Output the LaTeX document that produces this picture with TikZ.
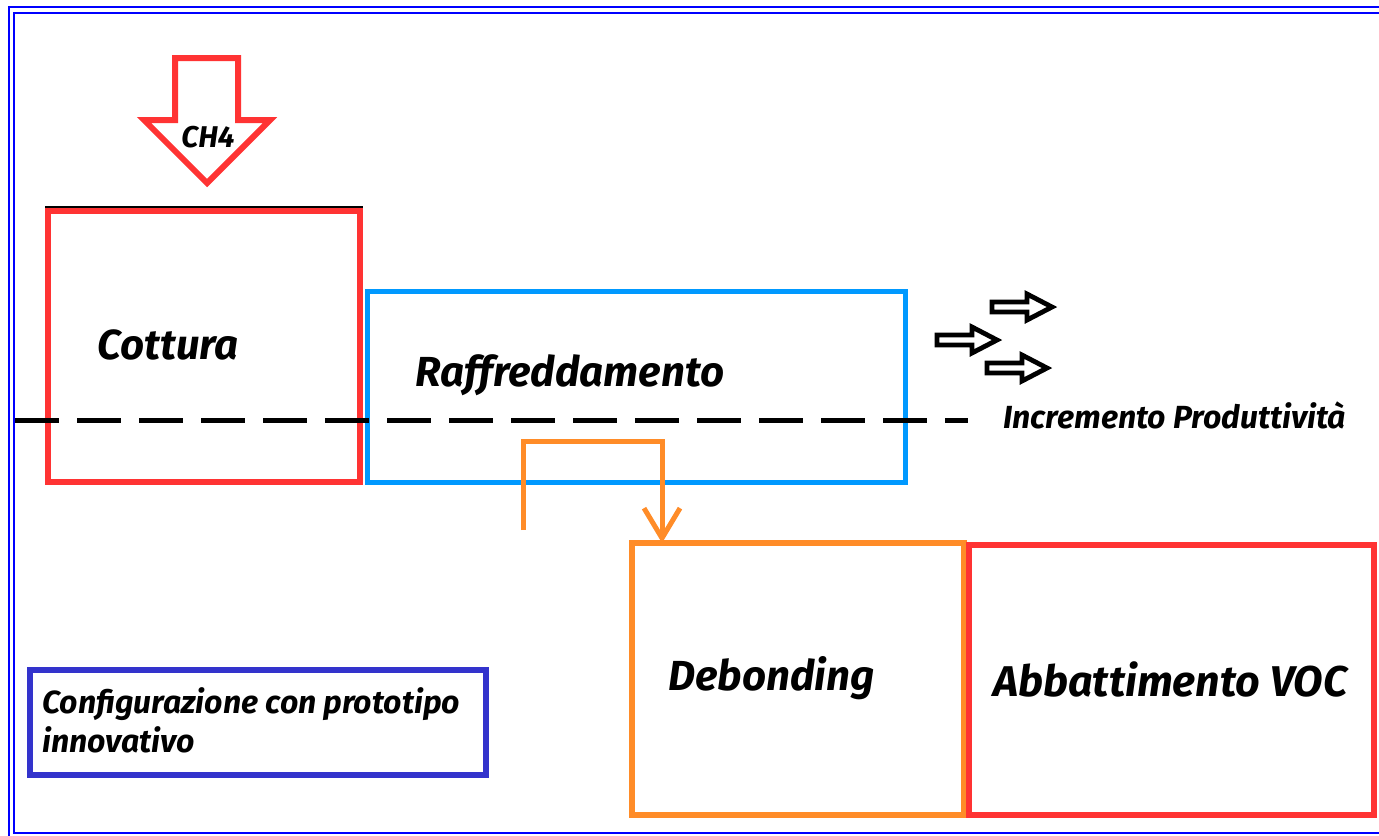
\documentclass[tikz,border=0pt]{standalone}
\usepackage{fontspec}
\setmainfont{Fira Sans}
\usetikzlibrary{arrows.meta}
\definecolor{boxred}{RGB}{255,51,51}
\definecolor{boxblue}{RGB}{0,153,255}
\definecolor{boxorange}{RGB}{255,140,40}
\definecolor{frameblue}{RGB}{0,0,255}
\definecolor{legblue}{RGB}{51,51,204}
\tikzset{
  box/.style={draw, line width=3pt, inner sep=0pt, outer sep=0pt},
  biglabel/.style={font=\fontsize{21}{25}\selectfont\bfseries\itshape, inner sep=0pt, anchor=base west},
  smalllabel/.style={font=\fontsize{16}{19.5}\selectfont\bfseries\itshape, inner sep=0pt, anchor=base west},
  blockarrow/.style={line width=2.4pt, line join=miter},
}
\begin{document}
\begin{tikzpicture}[x=0.5pt, y=-0.5pt, >=latex]
        \useasboundingbox (0,0) rectangle (1379,835);
        \clip (0,0) rectangle (1379,835);
        \draw [frameblue, line width=1.2pt] (1390,7) -- (9,7) -- (9,845);
        \draw [frameblue, line width=1.2pt] (1390,13) -- (14,13) -- (14,833) -- (1390,833);
        \draw [line width=1pt] (45,207) -- (363,207);
        \node [box, boxred, minimum width=312*0.5pt, minimum height=271*0.5pt] (cottura) at (204,346.5) {};
        \node [box, boxblue, line width=2.5pt, minimum width=538*0.5pt, minimum height=191*0.5pt] (raffr) at (636,386.5) {};
        \node [box, boxorange, minimum width=332*0.5pt, minimum height=272*0.5pt] (debond) at (798,679) {};
        \node [box, boxred, minimum width=405*0.5pt, minimum height=270*0.5pt] (abbatt) at (1171.5,680) {};
        \node [box, legblue, minimum width=456*0.5pt, minimum height=105*0.5pt] (legend) at (258,722.5) {};
        \node [biglabel] (tcottura) at (97,359) {Cottura};
        \node [biglabel] (traffr) at (415,386) {Raffreddamento};
        \node [biglabel] (tdebond) at (668,690) {Debonding};
        \node [biglabel, font=\fontsize{21.5}{25}\selectfont\bfseries\itshape] (tabbatt) at (993,696) {Abbattimento VOC};
        \node [smalllabel, align=left, anchor=north west] (tlegend) at (42,687) {Configurazione con prototipo\\innovativo};
        \node [smalllabel] (tincr) at (1003,428) {Incremento Produttività};
        \draw [line width=2.5pt, dash pattern=on 22pt off 9pt] (15,420) -- (968,420);
        \coordinate (ostart) at (523,530);
        \coordinate (oturn) at (662,441);
        \draw [boxorange, line width=2.5pt, -{Straight Barb[length=15pt,width=18pt]}] (ostart) |- (oturn) -- (oturn |- debond.north);
        \draw [boxred, line width=3pt, line join=miter] (175,58) -- (238,58) -- (238,120) -- (270,120) -- (207,183) -- (144,120) -- (175,120) -- cycle;
        \node [smalllabel, anchor=base, font=\fontsize{15}{18}\selectfont\bfseries\itshape] (ch4) at (208,147) {CH4};
        \foreach \x/\y in {992/307, 937/340, 987/368}
            \draw [blockarrow, shift={(\x,\y)}] (0,-5) -- (35,-5) -- (35,-13) -- (60,0) -- (35,13) -- (35,5) -- (0,5) -- cycle;
    \end{tikzpicture}
\end{document}
